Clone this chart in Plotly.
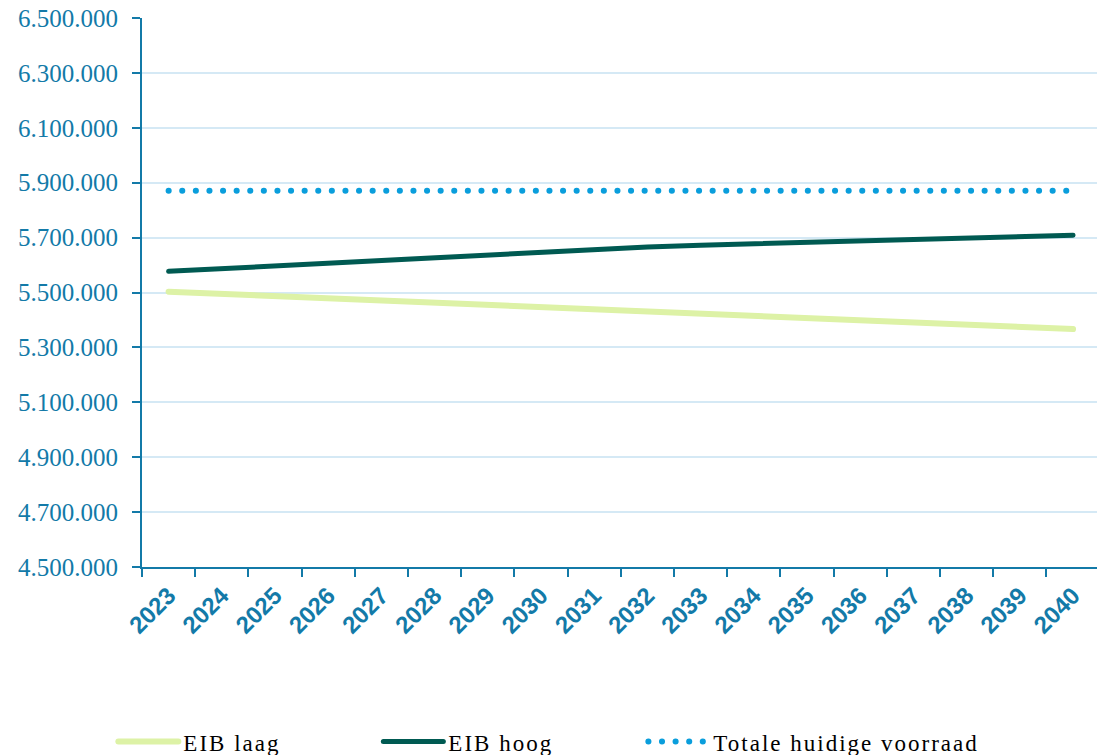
import plotly.graph_objects as go

years = [str(y) for y in range(2023, 2041)]
eib_laag = [5503000, 5495000, 5487000, 5479000, 5471000, 5463000, 5455000, 5447000, 5439000,
            5431000, 5423000, 5415000, 5407000, 5399000, 5391000, 5383000, 5375000, 5367000]
eib_hoog = [5577000, 5587000, 5598000, 5608000, 5618000, 5628000, 5639000, 5649000, 5659000,
            5666000, 5672000, 5677000, 5682000, 5687000, 5692000, 5698000, 5703000, 5709000]
totale = [5871000] * 18

AX = "#137AA8"
GRID = "#D5E9F5"

fig = go.Figure()
fig.add_trace(go.Scatter(x=years, y=eib_laag, name="EIB laag", mode="lines",
                         line=dict(color="#DDF2A6", width=6)))
fig.add_trace(go.Scatter(x=years, y=eib_hoog, name="EIB hoog", mode="lines",
                         line=dict(color="#005A52", width=5)))
fig.add_trace(go.Scatter(x=years, y=totale, name="Totale huidige voorraad", mode="lines",
                         line=dict(color="#0A9EDC", width=6, dash="0.1px,13.5px")))

fig.update_layout(
    width=1097, height=755,
    margin=dict(l=142, r=0, t=18, b=188, autoexpand=False),
    paper_bgcolor="white", plot_bgcolor="white",
    separators=",.",
    showlegend=True,
    hovermode=False,
    legend=dict(orientation="h", x=-0.030, xanchor="left", y=-0.318, yanchor="middle",
                font=dict(family="Liberation Serif", size=23, color="black"),
                entrywidth=190, itemwidth=60, traceorder="normal"),
    xaxis=dict(type="category", range=[-0.5, 17.45], tickson="boundaries", automargin=False,
               ticks="outside", ticklen=8, tickwidth=2, tickcolor=AX,
               showline=True, linecolor=AX, linewidth=2, showgrid=False,
               tickangle=-45, ticklabelstandoff=3,
               tickfont=dict(family="Liberation Sans", size=24, color=AX, weight="bold")),
    yaxis=dict(range=[4500000, 6500000], dtick=200000, tick0=4500000, tickformat=",d",
               automargin=False,
               ticks="outside", ticklen=8, tickwidth=2, tickcolor=AX,
               showline=True, linecolor=AX, linewidth=2,
               showgrid=True, gridcolor=GRID, gridwidth=2, zeroline=False,
               ticklabelstandoff=9,
               tickfont=dict(family="Liberation Serif", size=25, color=AX)),
)

post = """
document.querySelectorAll('.scatterlayer .js-line, .legend .js-line').forEach(function(p){
  p.style.strokeLinecap = 'round';
});
document.querySelectorAll('.legendtext').forEach(function(t){
  t.style.letterSpacing = '2px';
});
document.querySelectorAll('.legend, .legend .scrollbox, .legend *').forEach(function(el){
  if (el.hasAttribute('clip-path')) { el.removeAttribute('clip-path'); }
});
"""

fig.write_html("out.html", post_script=post)
